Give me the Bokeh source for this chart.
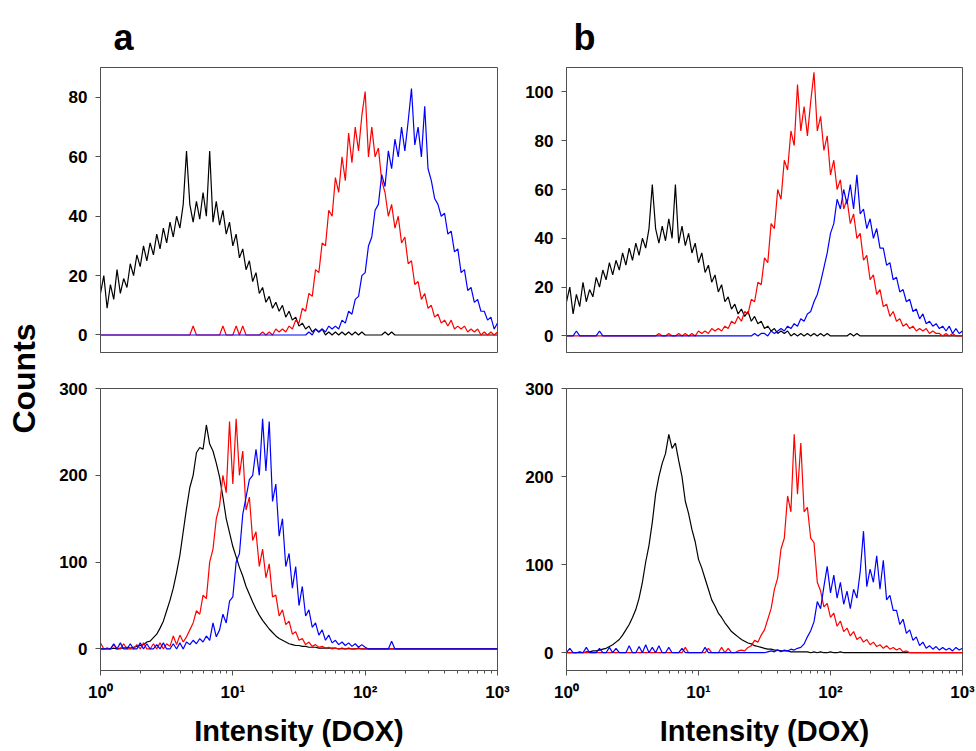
import math
import numpy as np
from bokeh.plotting import figure
from bokeh.layouts import row, column
from bokeh.models import FixedTicker, Label, Range1d
from bokeh.embed import file_html
from bokeh.resources import INLINE

# ---------------- data (counts per channel, channels every 0.025 decade from 10^0 to 10^3) ----------------
DECADES_PER_CHANNEL = 0.025

# (a)/(b) top row: control cells (black), same sample in both panels
CONTROL_TOP = [
    14, 20, 9, 17, 12, 22, 14, 19,
    16, 24, 20, 27, 23, 30, 25, 31,
    27, 34, 29, 36, 31, 38, 33, 40,
    36, 44, 62, 44, 38, 45, 39, 48,
    40, 62, 38, 45, 37, 42, 34, 38,
    30, 34, 26, 29, 22, 25, 18, 21,
    14, 16, 11, 13, 9, 11, 8, 10,
    6, 8, 5, 6, 3, 4, 2, 3,
    1, 2, 1, 2, 0, 1, 0, 1,
    0, 1, 0, 1, 0, 1, 0, 1,
    0, 0, 0, 0, 0, 0, 1, 0,
    1, 0, 0, 0, 0, 0, 0, 0,
    0, 0, 0, 0, 0, 0, 0, 0,
    0, 0, 0, 0, 0, 0, 0, 0,
    0, 0, 0, 0, 0, 0, 0, 0,
    0,
]
RED_A_TOP = [
    0, 0, 0, 0, 0, 0, 0, 0,
    0, 0, 0, 0, 0, 0, 0, 0,
    0, 0, 0, 0, 0, 0, 0, 0,
    0, 0, 0, 0, 3, 0, 0, 0,
    0, 0, 0, 0, 0, 3, 0, 0,
    0, 3, 0, 3, 0, 0, 0, 0,
    0, 1, 0, 1, 0, 2, 1, 2,
    1, 3, 2, 5, 4, 9, 8, 14,
    13, 22, 21, 31, 30, 42, 40, 53,
    48, 60, 52, 68, 58, 70, 62, 74,
    82, 60, 70, 60, 63, 52, 48, 40,
    44, 36, 40, 31, 33, 24, 25, 17,
    18, 12, 14, 9, 10, 6, 7, 4,
    5, 3, 5, 2, 3, 2, 3, 1,
    2, 1, 2, 0, 1, 0, 1, 0,
    1,
]
BLUE_A_TOP = [
    0, 0, 0, 0, 0, 0, 0, 0,
    0, 0, 0, 0, 0, 0, 0, 0,
    0, 0, 0, 0, 0, 0, 0, 0,
    0, 0, 0, 0, 0, 0, 0, 0,
    0, 0, 0, 0, 0, 0, 0, 0,
    0, 0, 0, 0, 0, 0, 0, 0,
    0, 0, 0, 0, 0, 0, 0, 0,
    0, 0, 0, 0, 0, 0, 0, 1,
    0, 2, 1, 2, 1, 3, 2, 3,
    2, 5, 4, 8, 7, 12, 13, 20,
    21, 30, 33, 42, 44, 54, 50, 62,
    56, 66, 60, 70, 62, 72, 83, 64,
    70, 60, 77, 56, 52, 46, 44, 40,
    41, 34, 35, 28, 29, 21, 22, 15,
    16, 11, 12, 8, 8, 5, 6, 2,
    4,
]
RED_B_TOP = [
    0, 0, 0, 0, 0, 0, 0, 0,
    0, 0, 0, 0, 0, 0, 0, 0,
    0, 0, 0, 0, 0, 0, 0, 0,
    0, 0, 0, 0, 1, 0, 0, 1,
    0, 0, 1, 0, 1, 0, 1, 0,
    2, 1, 2, 1, 3, 2, 3, 2,
    4, 3, 6, 5, 8, 6, 10, 9,
    15, 14, 22, 21, 32, 30, 46, 44,
    60, 56, 72, 68, 84, 78, 103, 84,
    94, 82, 96, 108, 84, 90, 76, 82,
    66, 72, 60, 64, 52, 56, 46, 50,
    40, 42, 31, 33, 23, 25, 17, 19,
    12, 13, 8, 10, 6, 7, 4, 5,
    3, 4, 2, 3, 2, 3, 1, 2,
    1, 1, 0, 1, 0, 1, 0, 0,
    0,
]
BLUE_B_TOP = [
    0, 0, 0, 2, 0, 0, 0, 0,
    0, 0, 2, 0, 0, 0, 0, 0,
    0, 0, 0, 0, 0, 0, 0, 0,
    0, 0, 0, 0, 0, 0, 0, 0,
    0, 0, 0, 0, 0, 0, 0, 0,
    0, 0, 0, 0, 0, 0, 0, 0,
    0, 0, 0, 0, 0, 0, 0, 0,
    0, 1, 0, 1, 1, 0, 2, 1,
    2, 3, 2, 4, 3, 5, 4, 7,
    6, 9, 10, 14, 17, 22, 28, 34,
    42, 46, 56, 52, 60, 54, 62, 52,
    66, 50, 52, 44, 48, 40, 44, 36,
    36, 29, 30, 23, 24, 18, 19, 14,
    15, 10, 11, 7, 9, 5, 6, 4,
    5, 3, 4, 2, 4, 1, 3, 1,
    2,
]

# (a) bottom row
CONTROL_A_BOT = [
    0, 0, 1, 0, 1, 0, 1, 1,
    2, 1, 2, 3, 4, 5, 8, 9,
    13, 17, 24, 32, 44, 56, 70, 88,
    108, 135, 162, 186, 200, 226, 232, 230,
    258, 236, 228, 214, 198, 175, 150, 134,
    118, 106, 94, 84, 72, 63, 54, 46,
    39, 33, 28, 23, 19, 15, 12, 10,
    8, 6, 5, 4, 4, 3, 3, 2,
    2, 2, 1, 1, 1, 1, 1, 1,
    0, 1, 0, 1, 0, 0, 1, 0,
    0, 0, 0, 0, 0, 0, 0, 0,
    0, 0, 0, 0, 0, 0, 0, 0,
    0, 0, 0, 0, 0, 0, 0, 0,
    0, 0, 0, 0, 0, 0, 0, 0,
    0, 0, 0, 0, 0, 0, 0, 0,
    0,
]
RED_A_BOT = [
    7, 0, 0, 0, 5, 0, 0, 6,
    0, 0, 0, 5, 0, 7, 0, 0,
    6, 0, 7, 0, 6, 3, 15, 5,
    16, 8, 14, 22, 30, 44, 40, 62,
    58, 100, 115, 150, 165, 200, 180, 262,
    190, 265, 200, 228, 160, 175, 125, 135,
    95, 115, 82, 98, 60, 62, 38, 45,
    28, 32, 17, 20, 10, 12, 5, 8,
    3, 5, 2, 3, 1, 2, 0, 1,
    0, 0, 0, 0, 0, 0, 0, 0,
    0, 0, 0, 0, 0, 0, 0, 0,
    0, 0, 0, 0, 0, 0, 0, 0,
    0, 0, 0, 0, 0, 0, 0, 0,
    0, 0, 0, 0, 0, 0, 0, 0,
    0, 0, 0, 0, 0, 0, 0, 0,
    0,
]
BLUE_A_BOT = [
    0, 0, 0, 0, 6, 0, 7, 0,
    0, 6, 0, 0, 7, 0, 6, 0,
    0, 5, 0, 7, 0, 0, 6, 0,
    7, 0, 8, 5, 10, 6, 12, 8,
    15, 10, 30, 14, 22, 40, 30, 55,
    60, 100, 110, 155, 175, 195, 200, 230,
    200, 265, 205, 262, 170, 190, 130, 150,
    95, 110, 70, 95, 50, 72, 38, 45,
    25, 30, 16, 22, 10, 16, 7, 10,
    5, 8, 4, 7, 3, 6, 2, 5,
    2, 0, 0, 0, 0, 0, 0, 0,
    9, 0, 0, 0, 0, 0, 0, 0,
    0, 0, 0, 0, 0, 0, 0, 0,
    0, 0, 0, 0, 0, 0, 0, 0,
    0, 0, 0, 0, 0, 0, 0, 0,
    0,
]

# (b) bottom row
CONTROL_B_BOT = [
    0, 0, 0, 0, 1, 0, 1, 1,
    2, 2, 3, 4, 5, 7, 9, 12,
    15, 20, 26, 32, 40, 49, 62, 80,
    103, 122, 148, 180, 200, 215, 226, 248,
    232, 238, 218, 200, 172, 158, 140, 126,
    106, 96, 84, 72, 60, 53, 45, 40,
    34, 29, 24, 21, 18, 15, 13, 11,
    10, 8, 7, 6, 5, 4, 4, 3,
    3, 2, 2, 2, 1, 1, 1, 1,
    1, 1, 0, 1, 0, 1, 0, 0,
    1, 0, 0, 1, 0, 0, 0, 0,
    0, 0, 0, 0, 0, 0, 0, 0,
    0, 0, 0, 0, 0, 0, 0, 0,
    0, 0, 0, 0, 0, 0, 0, 0,
    0, 0, 0, 0, 0, 0, 0, 0,
    0,
]
RED_B_BOT = [
    0, 0, 0, 0, 0, 0, 0, 0,
    0, 0, 0, 0, 0, 0, 0, 0,
    0, 0, 0, 0, 0, 0, 0, 0,
    0, 0, 0, 0, 0, 0, 0, 0,
    0, 0, 0, 0, 6, 0, 0, 0,
    0, 0, 0, 5, 0, 0, 0, 6,
    0, 5, 0, 0, 2, 3, 2, 6,
    8, 14, 12, 20, 26, 38, 50, 72,
    85, 118, 130, 178, 160, 248, 180, 238,
    160, 165, 130, 125, 80, 70, 52, 56,
    40, 45, 30, 36, 24, 28, 19, 24,
    15, 18, 12, 15, 9, 12, 7, 9,
    5, 8, 4, 6, 3, 5, 1, 2,
    0, 0, 0, 0, 0, 0, 0, 0,
    0, 0, 0, 0, 0, 0, 0, 0,
    0,
]
BLUE_B_BOT = [
    0, 5, 0, 0, 0, 0, 6, 0,
    0, 0, 5, 0, 0, 6, 0, 5,
    0, 0, 0, 8, 0, 0, 7, 0,
    9, 0, 6, 0, 8, 0, 0, 6,
    0, 0, 0, 5, 0, 0, 0, 0,
    0, 0, 6, 0, 0, 0, 0, 0,
    0, 0, 0, 0, 0, 0, 0, 0,
    0, 0, 0, 0, 0, 1, 2, 1,
    3, 1, 3, 2, 4, 3, 5, 6,
    10, 18, 25, 35, 58, 50, 75, 98,
    68, 88, 62, 80, 55, 70, 50, 72,
    62, 92, 138, 75, 95, 80, 110, 72,
    105, 60, 65, 48, 48, 32, 38, 22,
    26, 14, 18, 8, 12, 5, 8, 4,
    7, 3, 6, 3, 5, 2, 6, 3,
    5,
]

Y_TICKS_A_TOP = [0, 20, 40, 60, 80]
Y_TICKS_B_TOP = [0, 20, 40, 60, 80, 100]
Y_TICKS_BOT = [0, 100, 200, 300]
X_TICKS = [1, 10, 100, 1000]
X_TICK_LABELS = {1: "10⁰", 10: "10¹", 100: "10²", 1000: "10³"}
X_MINOR = [m * d for d in (1, 10, 100) for m in range(2, 10)]

COLORS = {"control": "#000000", "red": "#ff0000", "blue": "#0000ff"}
FONT = "Liberation Sans"
FRAME = "#505050"


def channels(values):
    return 10 ** (np.arange(len(values)) * DECADES_PER_CHANNEL)


def panel(width, height, mb_left, mb_right, mb_top, mb_bottom, y_range, y_ticks,
          show_x, series, letter=None, letter_offset=0):
    p = figure(width=width, height=height, x_axis_type="log",
               x_range=Range1d(1, 1000), y_range=Range1d(*y_range),
               output_backend="svg", toolbar_location=None,
               min_border_left=mb_left, min_border_right=mb_right,
               min_border_top=mb_top, min_border_bottom=mb_bottom)
    p.grid.visible = False
    p.outline_line_color = FRAME
    p.outline_line_width = 1
    p.background_fill_color = "white"
    p.border_fill_color = "white"

    for vals, col in series:
        p.line(channels(vals), vals, line_color=col, line_width=1.2)

    ya = p.yaxis[0]
    ya.ticker = FixedTicker(ticks=y_ticks)
    ya.axis_line_color = FRAME
    ya.major_tick_line_color = FRAME
    ya.major_tick_out = 5
    ya.major_tick_in = 0
    ya.minor_tick_out = 0
    ya.minor_tick_in = 0
    ya.major_label_standoff = 8
    ya.major_label_text_font = FONT
    ya.major_label_text_font_style = "bold"
    ya.major_label_text_font_size = "17px"
    ya.major_label_text_color = "#000000"

    xa = p.xaxis[0]
    if show_x:
        xa.ticker = FixedTicker(ticks=X_TICKS, minor_ticks=X_MINOR)
        xa.major_label_overrides = X_TICK_LABELS
        xa.axis_line_color = FRAME
        xa.major_tick_line_color = FRAME
        xa.minor_tick_line_color = FRAME
        xa.major_tick_out = 5
        xa.major_tick_in = 0
        xa.minor_tick_out = 3
        xa.minor_tick_in = 0
        xa.major_label_standoff = 7
        xa.major_label_text_font = FONT
        xa.major_label_text_font_style = "bold"
        xa.major_label_text_font_size = "17px"
        xa.major_label_text_color = "#000000"
        xa.axis_label = "Intensity (DOX)"
        xa.axis_label_text_font = FONT
        xa.axis_label_text_font_style = "bold"
        xa.axis_label_text_font_size = "29px"
        xa.axis_label_text_color = "#000000"
        xa.axis_label_standoff = 10
    else:
        xa.visible = False

    if letter:
        p.title.text = letter
        p.title.text_font = FONT
        p.title.text_font_style = "bold"
        p.title.text_font_size = "36px"
        p.title.text_color = "#000000"
        p.title.align = "left"
        p.title.offset = letter_offset
        p.title.standoff = 19
    return p


a_top = panel(463, 370, 48, 18, 67, 18, (-5.9, 90.1), Y_TICKS_A_TOP, False,
              [(CONTROL_TOP, COLORS["control"]), (RED_A_TOP, COLORS["red"]),
               (BLUE_A_TOP, COLORS["blue"])], letter="a", letter_offset=13)
b_top = panel(461, 370, 51, 14, 67, 18, (-6.8, 110.0), Y_TICKS_B_TOP, False,
              [(CONTROL_TOP, COLORS["control"]), (RED_B_TOP, COLORS["red"]),
               (BLUE_B_TOP, COLORS["blue"])], letter="b", letter_offset=7)
a_bot = panel(463, 381, 48, 18, 18, 78, (-24.8, 300), Y_TICKS_BOT, True,
              [(CONTROL_A_BOT, COLORS["control"]), (RED_A_BOT, COLORS["red"]),
               (BLUE_A_BOT, COLORS["blue"])])
b_bot = panel(461, 381, 51, 14, 14, 81, (-20.2, 300), Y_TICKS_BOT, True,
              [(CONTROL_B_BOT, COLORS["control"]), (RED_B_BOT, COLORS["red"]),
               (BLUE_B_BOT, COLORS["blue"])])

# left strip holding the shared y-axis title
counts = figure(width=52, height=751, x_range=Range1d(0, 1), y_range=Range1d(0, 1),
                output_backend="svg", toolbar_location=None, min_border=0)
counts.axis.visible = False
counts.grid.visible = False
counts.outline_line_color = None
counts.add_layout(Label(x=23 / 52, y=(751 - 378) / 751, text="Counts", angle=math.pi / 2,
                        text_align="center", text_baseline="middle",
                        text_font=FONT, text_font_style="bold", text_font_size="32px",
                        text_color="#000000"))

layout = row(counts, column(row(a_top, b_top), row(a_bot, b_bot)))

open("out.html", "w").write(file_html(layout, INLINE))
